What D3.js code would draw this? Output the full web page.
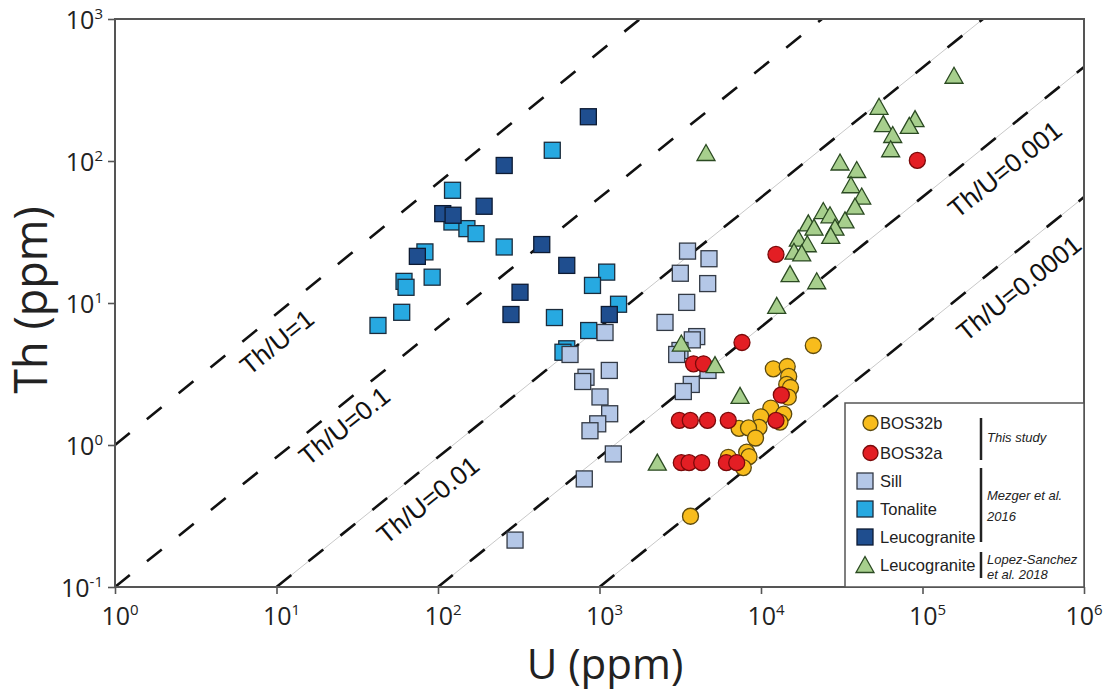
<!DOCTYPE html>
<html><head><meta charset="utf-8">
<script src="https://cdn.jsdelivr.net/npm/d3@7"></script>
<style>body{margin:0;background:#fff}svg{display:block}</style>
</head><body>
<svg id="c" width="1105" height="691"></svg>
<script>
// ---------- DATA (U ppm, Th ppm) ----------
const tonalite = [[510,119],[123,62.2],[122,37.2],[151,33.4],[172,30.8],[257,24.8],[83,22.9],[92,15.2],[1108,16.5],[905,13.3],[61.6,14.2],[63.4,12.9],[59.6,8.6],[42.5,6.95],[1312,9.8],[526,7.9],[857,6.4],[627,4.76],[594,4.5]];
const leucoMezger = [[853,205],[257,93],[193,48],[107,42.6],[124,41.5],[439,25.8],[74.5,21.3],[627,18.4],[322,11.9],[283,8.3],[1150,8.3]];
const sill = [[3508,23.2],[4764,20.5],[3165,16.2],[4677,13.7],[3467,10.1],[2545,7.3],[4000,5.8],[3755,5.5],[3150,4.63],[3006,4.34],[3700,2.67],[3304,2.38],[4698,3.35],[1082,6.2],[657,4.34],[1150,3.35],[825,3.0],[787,2.8],[1007,2.18],[1156,1.66],[975,1.41],[873,1.26],[1218,0.865],[805,0.577],[300,0.214]];
const bos32b = [[21080,5.02],[3660,0.315],[11920,3.44],[14530,3.57],[14840,3.04],[14430,2.67],[15230,2.54],[14760,2.17],[11500,1.82],[13830,1.65],[9970,1.58],[13110,1.45],[9720,1.33],[7310,1.31],[8370,1.32],[9250,1.12],[8150,0.891],[8430,0.828],[7770,0.693],[6275,0.819]];
const bos32a = [[12380,22.0],[92900,101],[7625,5.27],[3820,3.73],[4405,3.73],[13360,2.25],[12380,1.49],[3120,1.49],[3650,1.49],[4665,1.49],[6270,1.49],[3210,0.751],[3585,0.751],[4295,0.751],[6100,0.751],[7075,0.751]];
const leucoLopez = [[156700,392],[53800,237],[57200,179],[89900,194],[82800,174],[65400,150],[63500,119],[30850,96],[39150,85],[36070,66.4],[42040,55.3],[38200,47.0],[24300,43.7],[26740,40.8],[33120,37.6],[28710,33.4],[27020,29.2],[19630,35.8],[21290,33.4],[17030,27.9],[19350,25.5],[16000,22.6],[17870,22.0],[15130,15.7],[22130,14.0],[4565,112],[12510,9.4],[3210,5.1],[5190,3.59],[7415,2.18],[2280,0.739]];

// reference Th/U lines (endpoints)
const refLabels = ["Th/U=1","Th/U=0.1","Th/U=0.01","Th/U=0.001","Th/U=0.0001"];
const refStartU = [1, 1, 10, 100, 1000];
const refStartTh = [1, 0.1, 0.1, 0.1, 0.1];
const refEndU = [1780, 23870, 237000, 1e6, 1e6];
const refEndTh = [1000, 1000, 1000, 459, 55.7];

const xTicks = [1,10,100,1e3,1e4,1e5,1e6];
const xTickExp = ["0","1","2","3","4","5","6"];
const yTicks = [0.1,1,10,100,1000];
const yTickExp = ["-1","0","1","2","3"];

// ---------- LAYOUT ----------
const labelFootX = [263, 333, 411, 986, 1000];
const labelOffset = [22, 18, 27, 30, 30];
const greyUnder = [false, false, true, true, true];
const xLabelShift = [5, 5, 5, 5, 5, 5, 0];

const svg = d3.select("#c");
const x = d3.scaleLog().domain([1,1e6]).range([115,1084]);
const y = d3.scaleLog().domain([0.1,1000]).range([587,19]);

const gLines = svg.append("g");
refLabels.forEach((lab,i)=>{
  const x0=x(refStartU[i]), y0=y(refStartTh[i]), x1=x(refEndU[i]), y1=y(refEndTh[i]);
  if (greyUnder[i]) gLines.append("line").attr("x1",x0).attr("y1",y0).attr("x2",x1).attr("y2",y1)
      .attr("stroke","#c8c8c8").attr("stroke-width",1);
  gLines.append("line").attr("x1",x0).attr("y1",y0).attr("x2",x1).attr("y2",y1)
      .attr("stroke","#111").attr("stroke-width",2.6).attr("stroke-dasharray","19,22");
  const len = Math.hypot(x1-x0,y1-y0), dx=(x1-x0)/len, dy=(y1-y0)/len;
  const t=(labelFootX[i]-x0)/(x1-x0);
  const fx=x0+t*(x1-x0), fy=y0+t*(y1-y0);
  const cx=fx+labelOffset[i]*(-dy), cy=fy+labelOffset[i]*dx;
  const ang=Math.atan2(y1-y0,x1-x0)*180/Math.PI;
  gLines.append("text").attr("transform",`translate(${cx},${cy}) rotate(${ang})`)
    .attr("text-anchor","middle").attr("dy","0.35em")
    .attr("font-family","Liberation Sans, Arial, sans-serif").attr("font-size",26).attr("fill","#111")
    .text(lab);
});

// frame
svg.append("rect").attr("x",115).attr("y",19).attr("width",969).attr("height",568)
  .attr("fill","none").attr("stroke","#555").attr("stroke-width",2);

// axes ticks
const ax = svg.append("g").attr("transform","translate(0,587)")
  .call(d3.axisBottom(x).tickValues(xTicks).tickSize(7).tickFormat(""));
const ay = svg.append("g").attr("transform","translate(115,0)")
  .call(d3.axisLeft(y).tickValues(yTicks).tickSize(7).tickFormat(""));
[ax,ay].forEach(a=>{a.select(".domain").remove(); a.selectAll("line").attr("stroke","#555").attr("stroke-width",1.6);});

const tickFont = "Open Sans, Noto Sans, sans-serif";
xTicks.forEach((v,i)=>{
  const t = svg.append("text").attr("x",x(v)+xLabelShift[i]).attr("y",625).attr("text-anchor","middle")
    .attr("font-family",tickFont).attr("font-size",25).attr("fill","#222");
  t.append("tspan").text("10");
  t.append("tspan").attr("font-size",15).attr("dy",-10).text(xTickExp[i]);
});
yTicks.forEach((v,i)=>{
  const t = svg.append("text").attr("x",103).attr("y",y(v)+10).attr("text-anchor","end")
    .attr("font-family",tickFont).attr("font-size",25).attr("fill","#222");
  t.append("tspan").text("10");
  t.append("tspan").attr("font-size",15).attr("dy",-10).text(yTickExp[i]);
});

// axis titles
svg.append("text").attr("transform","translate(47,300) rotate(-90)").attr("text-anchor","middle")
  .attr("font-family",tickFont).attr("font-size",45).attr("fill","#222").text("Th (ppm)");
svg.append("text").attr("x",605).attr("y",679).attr("text-anchor","middle")
  .attr("font-family",tickFont).attr("font-size",42).attr("fill","#222").text("U (ppm)");

// markers
const styles = {
  tonalite:{fill:"#27A9E1",stroke:"#1c2c3c"},
  leucoM:{fill:"#1F4E8F",stroke:"#0d1b33"},
  sill:{fill:"#B4C7E7",stroke:"#333a45"},
  b:{fill:"#F8BC1C",stroke:"#5c4a10"},
  a:{fill:"#E31E24",stroke:"#7a0a0a"},
  g:{fill:"#A7CF8D",stroke:"#2b4a22"}
};
const S=16, R=8;
const tri = "M0,-9.5L9,6.5L-9,6.5Z";
function squares(data,st){
  svg.append("g").selectAll("rect").data(data).join("rect")
    .attr("x",d=>x(d[0])-S/2).attr("y",d=>y(d[1])-S/2).attr("width",S).attr("height",S)
    .attr("fill",st.fill).attr("stroke",st.stroke).attr("stroke-width",1.3);
}
function circles(data,st){
  svg.append("g").selectAll("circle").data(data).join("circle")
    .attr("cx",d=>x(d[0])).attr("cy",d=>y(d[1])).attr("r",R)
    .attr("fill",st.fill).attr("stroke",st.stroke).attr("stroke-width",1.3);
}
function triangles(data,st){
  svg.append("g").selectAll("path").data(data).join("path")
    .attr("d",tri).attr("transform",d=>`translate(${x(d[0])},${y(d[1])})`)
    .attr("fill",st.fill).attr("stroke",st.stroke).attr("stroke-width",1.3);
}
squares(tonalite,styles.tonalite);
squares(leucoMezger,styles.leucoM);
squares(sill,styles.sill);
circles(bos32b,styles.b);
circles(bos32a,styles.a);
triangles(leucoLopez,styles.g);

// legend
const lg = svg.append("g");
lg.append("rect").attr("x",845).attr("y",403).attr("width",239).attr("height",184)
  .attr("fill","#fff").attr("stroke","#555").attr("stroke-width",1.5);
const legNames = ["BOS32b","BOS32a","Sill","Tonalite","Leucogranite","Leucogranite"];
const legShapes = ["c","c","s","s","s","t"];
const legStyles = [styles.b,styles.a,styles.sill,styles.tonalite,styles.leucoM,styles.g];
const legY = [423,453,481,509,537,565];
legNames.forEach((n,i)=>{
  const st=legStyles[i];
  if (legShapes[i]==="c") lg.append("circle").attr("cx",870.5).attr("cy",legY[i]).attr("r",7.5)
      .attr("fill",st.fill).attr("stroke",st.stroke).attr("stroke-width",1.3);
  else if (legShapes[i]==="s") lg.append("rect").attr("x",857).attr("y",legY[i]-8).attr("width",16).attr("height",16)
      .attr("fill",st.fill).attr("stroke",st.stroke).attr("stroke-width",1.3);
  else lg.append("path").attr("d",tri).attr("transform",`translate(865,${legY[i]+1})`)
      .attr("fill",st.fill).attr("stroke",st.stroke).attr("stroke-width",1.3);
  lg.append("text").attr("x",880).attr("y",legY[i]+6).attr("font-family","Liberation Sans, Arial, sans-serif")
    .attr("font-size",16.5).attr("fill","#222").text(n);
});
const bars = [[418,460],[468,542],[552,578]];
bars.forEach(b=>lg.append("line").attr("x1",981).attr("x2",981).attr("y1",b[0]).attr("y2",b[1])
  .attr("stroke","#222").attr("stroke-width",2.5));
const refs = [["This study",442],["Mezger et al.",500],["2016",521],["Lopez-Sanchez",564],["et al. 2018",579]];
refs.forEach(r=>lg.append("text").attr("x",987).attr("y",r[1]).attr("font-family","Liberation Sans, Arial, sans-serif")
  .attr("font-style","italic").attr("font-size",13).attr("fill","#222").text(r[0]));
</script></body></html>
